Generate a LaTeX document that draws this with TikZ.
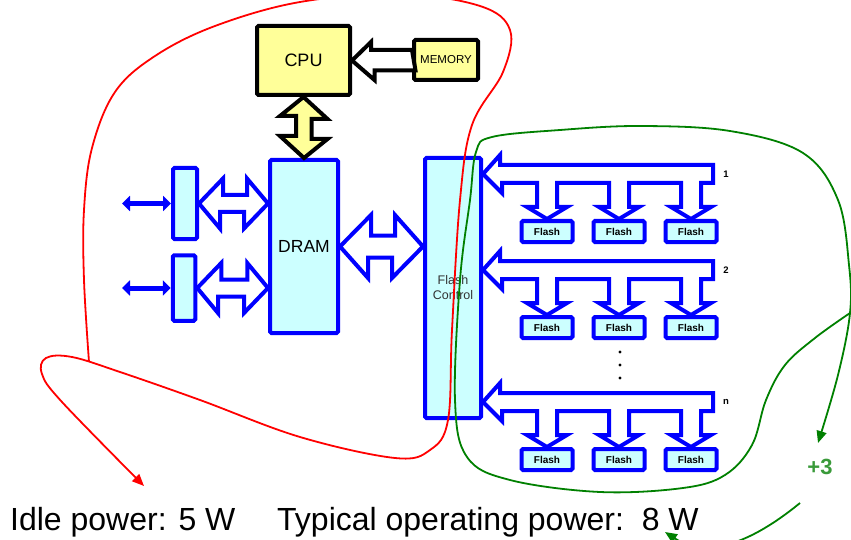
\documentclass[tikz,border=0pt]{standalone}
\usepackage{fontspec}
\setmainfont{Liberation Sans}
\usetikzlibrary{arrows.meta}

\definecolor{chipyellow}{HTML}{FFFF99}
\definecolor{chipcyan}{HTML}{CCFFFF}
\definecolor{loopgreen}{HTML}{008000}
\definecolor{pluscol}{HTML}{3A9A3A}

\begin{document}
\begin{tikzpicture}[
	x=1pt, y=-1pt,
	ybox/.style={
		draw, line width=4pt, rectangle, rounded corners=1.5pt,
		fill=chipyellow, inner sep=0pt
	},
	cbox/.style={
		draw=blue, line width=4pt, rectangle, rounded corners=1.5pt,
		fill=chipcyan, inner sep=0pt
	},
	flash/.style={cbox, minimum width=51pt, minimum height=21pt,
		font=\fontsize{10}{12}\selectfont\bfseries},
	hollow/.style={draw=blue, line width=4pt, fill=white, line join=miter},
	yarr/.style={draw, line width=4pt, fill=chipyellow, line join=miter},
	warr/.style={draw, line width=4pt, fill=white, line join=miter},
	link/.style={blue, line width=5pt,
		{Triangle[length=8pt,width=15pt]}-{Triangle[length=8pt,width=15pt]}},
	scrib/.style={line width=1.8pt, -{Triangle[length=12pt,width=10pt]}},
	num/.style={font=\fontsize{9.5}{11}\selectfont\bfseries},
	big/.style={font=\fontsize{32}{36}\selectfont, anchor=base west, inner sep=0pt},
	]
	\clip (0,0) rectangle (851,540);
	% processor side
	\node[ybox, minimum width=93pt, minimum height=69pt,
	font=\fontsize{18}{20}\selectfont] (cpu) at (303.5,60.5) {CPU};
	\node[ybox, minimum width=64pt, minimum height=40pt,
	font=\fontsize{11.5}{13}\selectfont] (mem) at (446,60) {MEMORY};
	\node[cbox, minimum width=68pt, minimum height=173pt,
	font=\fontsize{17.5}{20}\selectfont] (dram) at (304,246.5) {DRAM};
	\node[cbox, minimum width=24pt, minimum height=71pt] (port1) at (185,203.5) {};
	\node[cbox, minimum width=22.5pt, minimum height=65.5pt] (port2) at (184,288) {};
	\node[cbox, minimum width=56pt, minimum height=260pt, align=center,
	text=black!80, font=\fontsize{12.5}{15}\selectfont] (fctrl) at (453,288) {Flash\\Control};
	\coordinate (ext1) at (122,203.5);
	\coordinate (ext2) at (122,288);

	\draw[warr] (mem.west) ++(0,-10) -- ++(-41,0) -- ++(0,-8) -- (cpu.east)
	-- ++(22.5,19.5) -- ++(0,-9.5) -- ++(41,0) -- cycle;
	\draw[yarr] (cpu.south) -- ++(24,22) -- ++(-16,0) -- ++(0,20) -- ++(16,0)
	-- (dram.north) -- ++(-24,-22) -- ++(16,0) -- ++(0,-20) -- ++(-16,0) -- cycle;
	\draw[hollow] (port1.east) -- ++(24,-25) -- ++(0,16.5) -- ++(24,0) -- ++(0,-16.5)
	-- (dram.west |- port1.east) -- ++(-24,25) -- ++(0,-16.5) -- ++(-24,0) -- ++(0,16.5) -- cycle;
	\draw[hollow] (port2.east) -- ++(24,-25) -- ++(0,16.5) -- ++(26,0) -- ++(0,-16.5)
	-- (dram.west |- port2.east) -- ++(-24,25) -- ++(0,-16.5) -- ++(-26,0) -- ++(0,16.5) -- cycle;
	\draw[hollow] (dram.east) -- ++(31,-31.5) -- ++(0,20.5) -- ++(24,0) -- ++(0,-20.5)
	-- (fctrl.west |- dram.east) -- ++(-31,31.5) -- ++(0,-20.5) -- ++(-24,0) -- ++(0,20.5) -- cycle;
	\draw[link] (port1.west) -- (ext1);
	\draw[link] (port2.west) -- (ext2);

	% flash channels
	\foreach \y/\n in {174/1, 270/2, 402/n} {
		\foreach \c [count=\k] in {547,619,691}
		\node[flash] (fl\n\k) at (\c,\y+57.5) {Flash};
		\draw[hollow] (fctrl.east |- 0,\y) -- ++(17,-19) -- ++(0,10) -- (713,\y-9) -- (713,\y+9)
		\foreach \c/\k in {691/3,619/2,547/1} {
			-- (\c+10,\y+9) -- (\c+10,\y+33) -- (\c+20,\y+33) -- (fl\n\k.north)
			-- (\c-20,\y+33) -- (\c-10,\y+33) -- (\c-10,\y+9)
		} -- (502,\y+9) -- (502,\y+19) -- cycle;
		\node[num] (lab\n) at (726,\y) {\n};
	}
	\foreach \d in {352,365,378}
	\fill (620,\d) circle (1.6);

	% power annotations
	\node[big] (idle) at (10,530) {Idle power: 5 W};
	\node[big] (typ) at (277,530) {Typical operating power:\ \ 8 W};
	\node[font=\fontsize{22}{24}\selectfont\bfseries, text=pluscol] (plus) at (820,467) {+3};

	\draw[scrib, red] plot[smooth, tension=0.6] coordinates {
		(89,362) (84,280) (84,210) (92,148) (115,92) (155,56) (215,26) (300,2)
		(400,-6) (480,6) (510,30) (503,72) (472,125) (460,200) (452,330)
		(448,420) (430,450) (395,458) (300,437) (200,400) (120,372) (72,357)
		(46,358) (42,374) (62,402) (144,486)};
	\draw[scrib, loopgreen] plot[smooth, tension=0.6] coordinates {
		(850,313) (815,338) (785,365) (766,400) (752,445) (725,475) (683,488)
		(600,492) (510,480) (467,457) (455,400) (460,280) (470,200) (476,152)
		(492,137) (560,130) (640,126) (730,131) (803,153) (838,200) (849,265)
		(850,313) (838,375) (818,443)};
	\draw[scrib, loopgreen] (800,503) .. controls (740,552) and (700,555) .. (665,532);
\end{tikzpicture}
\end{document}
